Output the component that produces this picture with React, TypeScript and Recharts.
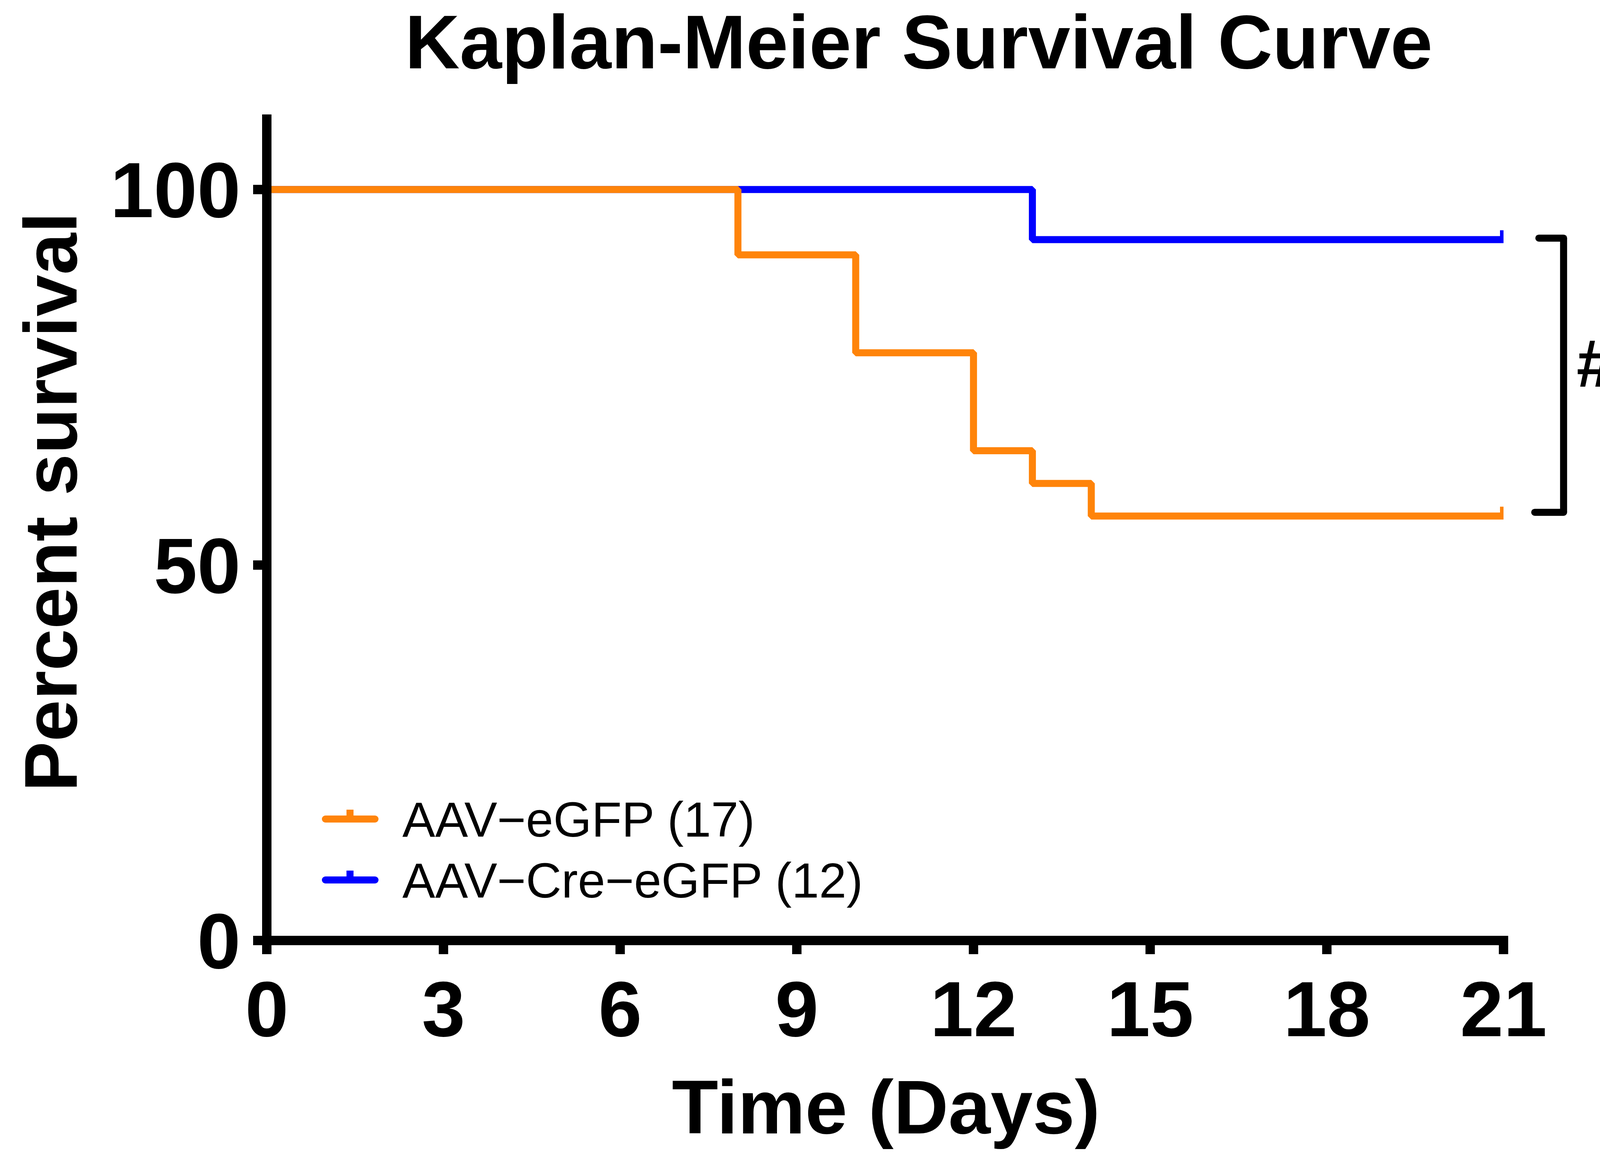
import React from "react";
import { Legend, Line, LineChart, ReferenceLine, XAxis, YAxis } from "recharts";

const FONT = "'Liberation Sans', Arial, Helvetica, sans-serif";
const W = 4152;
const H = 2970;
const ORANGE = "#FF840A";
const BLUE = "#0000FF";

// Kaplan-Meier steps (day, percent survival)
const EGFP_NAME = "AAV\u2212eGFP (17)";
const EGFP_DAYS = [0, 8, 10, 12, 13, 14, 21];
const EGFP_SURVIVAL = [100, 91.3, 78.26, 65.22, 60.87, 56.52, 56.52];

const CRE_NAME = "AAV\u2212Cre\u2212eGFP (12)";
const CRE_DAYS = [0, 13, 21];
const CRE_SURVIVAL = [100, 93.33, 93.33];

const CENSORED_DAY = 21;

const X_TICKS = [0, 3, 6, 9, 12, 15, 18, 21];
const Y_TICKS = [0, 50, 100];

const LEGEND_ORDER = [EGFP_NAME, CRE_NAME];

const egfpData = EGFP_DAYS.map((day, i) => ({ day, survival: EGFP_SURVIVAL[i] }));
const creData = CRE_DAYS.map((day, i) => ({ day, survival: CRE_SURVIVAL[i] }));

// significance bracket, in data units
const BRACKET_X = 22.02;
const BRACKET_ARM = 21.6;
const bracketTop = CRE_SURVIVAL[CRE_SURVIVAL.length - 1] + 0.2;
const bracketBottom = EGFP_SURVIVAL[EGFP_SURVIVAL.length - 1] + 0.5;

function CensorTick(props: any) {
  const { cx, cy, payload, stroke, index } = props;
  if (cx == null || cy == null || payload?.day !== CENSORED_DAY) return <g key={`n${index}`} />;
  return <rect key={`c${index}`} x={cx - 9} y={cy - 24} width={18} height={24} fill={stroke} />;
}

function LegendBox({ payload }: any) {
  const items = [...(payload || [])].sort(
    (a: any, b: any) => LEGEND_ORDER.indexOf(a.value) - LEGEND_ORDER.indexOf(b.value)
  );
  return (
    <svg width={1700} height={360}>
      {items.map((it: any, i: number) => {
        const y = 117 + i * 156;
        return (
          <g key={it.value}>
            <line x1={33} x2={160} y1={y} y2={y} stroke={it.color} strokeWidth={18} strokeLinecap="round" />
            <rect x={87} y={y - 24} width={18} height={24} fill={it.color} />
            <text x={230} y={y + 45} fontSize={126} fontFamily={FONT} fill="#000">
              {it.value}
            </text>
          </g>
        );
      })}
    </svg>
  );
}

const bracketStyle = { stroke: "#000", strokeWidth: 18, ifOverflow: "visible" as const };

export default function App() {
  return (
    <div style={{ position: "relative", width: W, height: H, background: "#fff", overflow: "hidden" }}>
      <style>{`body{margin:0;background:#fff}`}</style>
      <LineChart width={W} height={H} margin={{ top: 293, right: 303, bottom: 262, left: 283 }}>
        <XAxis
          type="number"
          dataKey="day"
          domain={[0, 21]}
          ticks={X_TICKS}
          allowDataOverflow
          height={300}
          tickSize={35}
          tickMargin={68}
          axisLine={{ stroke: "#000", strokeWidth: 24, strokeLinecap: "square" }}
          tickLine={{ stroke: "#000", strokeWidth: 24 }}
          tick={{ fontSize: 200, fontWeight: "bold", fill: "#000", fontFamily: FONT }}
        />
        <YAxis
          type="number"
          domain={[0, 110]}
          ticks={Y_TICKS}
          allowDataOverflow
          width={400}
          tickSize={35}
          tickMargin={32}
          axisLine={{ stroke: "#000", strokeWidth: 24 }}
          tickLine={{ stroke: "#000", strokeWidth: 24 }}
          tick={{ fontSize: 200, fontWeight: "bold", fill: "#000", fontFamily: FONT }}
        />
        <Line
          data={creData}
          dataKey="survival"
          name={CRE_NAME}
          type="stepAfter"
          stroke={BLUE}
          strokeWidth={18}
          strokeLinejoin="bevel"
          strokeLinecap="round"
          dot={(p: any) => <CensorTick {...p} />}
          activeDot={false}
          isAnimationActive={false}
        />
        <Line
          data={egfpData}
          dataKey="survival"
          name={EGFP_NAME}
          type="stepAfter"
          stroke={ORANGE}
          strokeWidth={18}
          strokeLinejoin="bevel"
          strokeLinecap="round"
          dot={(p: any) => <CensorTick {...p} />}
          activeDot={false}
          isAnimationActive={false}
        />
        <ReferenceLine
          {...bracketStyle}
          strokeLinecap="round"
          segment={[
            { x: BRACKET_ARM, y: bracketTop },
            { x: BRACKET_X, y: bracketTop },
          ]}
        />
        <ReferenceLine
          {...bracketStyle}
          strokeLinecap="round"
          segment={[
            { x: BRACKET_ARM - 0.07, y: bracketBottom },
            { x: BRACKET_X, y: bracketBottom },
          ]}
        />
        <ReferenceLine
          {...bracketStyle}
          segment={[
            { x: BRACKET_X, y: bracketTop },
            { x: BRACKET_X, y: bracketBottom },
          ]}
        />
        <Legend
          layout="horizontal"
          verticalAlign="middle"
          align="center"
          content={<LegendBox />}
          wrapperStyle={{ left: 800, top: 1980, width: 1700, height: 360 }}
        />
      </LineChart>
      <svg
        width={W}
        height={H}
        style={{ position: "absolute", left: 0, top: 0, pointerEvents: "none" }}
      >
        <text x={2352} y={175} textAnchor="middle" fontSize={194} fontWeight="bold" fontFamily={FONT}>
          Kaplan-Meier Survival Curve
        </text>
        <text
          transform="translate(196,1285) rotate(-90)"
          textAnchor="middle"
          fontSize={192}
          fontWeight="bold"
          fontFamily={FONT}
        >
          Percent survival
        </text>
        <text x={2268} y={2902} textAnchor="middle" fontSize={194} fontWeight="bold" fontFamily={FONT}>
          Time (Days)
        </text>
        <text x={4036} y={990} fontSize={172} fontWeight="bold" fontFamily={FONT}>
          #
        </text>
      </svg>
    </div>
  );
}
